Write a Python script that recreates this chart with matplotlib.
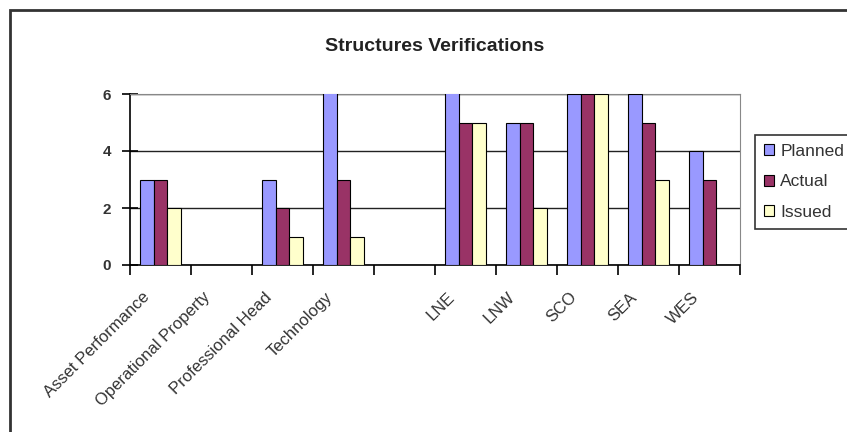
import numpy as np
import matplotlib.pyplot as plt
from matplotlib.patches import Rectangle

plt.rcParams['font.family'] = ['Liberation Sans', 'DejaVu Sans']

# Data: one empty slot separates the functional groups from the routes
categories = ['Asset Performance', 'Operational Property', 'Professional Head',
              'Technology', '', 'LNE', 'LNW', 'SCO', 'SEA', 'WES']
planned = [3, 0, 3, 7, 0, 7, 5, 6, 6, 4]
actual = [3, 0, 2, 3, 0, 5, 5, 6, 5, 3]
issued = [2, 0, 1, 1, 0, 5, 2, 6, 3, 0]

series = [('Planned', planned, '#9999FF'),
          ('Actual', actual, '#993366'),
          ('Issued', issued, '#FFFFCC')]

TEXT_COLOR = '#333333'

fig = plt.figure(figsize=(8.47, 4.32), dpi=100)
ax = fig.add_axes([130 / 847, 1 - 265 / 432, 610 / 847, 171 / 432])

x = np.arange(len(categories)) + 0.5
bar_w = 0.22
for i, (name, vals, color) in enumerate(series):
    ax.bar(x + (i - 1) * bar_w, vals, width=bar_w, color=color,
           edgecolor='black', linewidth=0.8, label=name, zorder=3)

ax.set_xlim(0, len(categories))
ax.set_ylim(0, 6)
ax.set_yticks([0, 2, 4, 6])
ax.yaxis.grid(True, color='#222222', linewidth=1.0, zorder=1)
ax.set_axisbelow(True)

# category boundaries carry the tick marks, labels sit under each slot
ax.set_xticks(np.arange(len(categories) + 1))
ax.set_xticklabels([])
ax.tick_params(axis='x', direction='out', length=7, width=1.2, color='black')
ax.tick_params(axis='y', direction='inout', length=11, width=1.2,
               labelsize=11, labelcolor=TEXT_COLOR, pad=8)
for lbl in ax.get_yticklabels():
    lbl.set_fontweight('bold')

for xi, name in zip(x, categories):
    ax.text(xi - 0.22, -1.05, name, rotation=45, ha='right', va='center',
            rotation_mode='anchor', fontsize=12, color=TEXT_COLOR,
            transform=ax.transData)

for side in ['top', 'right']:
    ax.spines[side].set_color('#888888')
for side in ['left', 'bottom']:
    ax.spines[side].set_color('black')
    ax.spines[side].set_linewidth(1.2)

ax.set_title('Structures Verifications', fontsize=14, fontweight='bold',
             color='#222222', pad=31)

leg = fig.legend(loc='upper left', bbox_to_anchor=(755 / 847, 1 - 135 / 432),
                 fontsize=12.5, frameon=True, fancybox=False, handlelength=0.6,
                 handleheight=0.6, handletextpad=0.35, borderpad=0.5,
                 labelspacing=0.9, borderaxespad=0, edgecolor='black')
leg.get_frame().set_linewidth(1.2)
for t in leg.get_texts():
    t.set_color(TEXT_COLOR)

# chart frame
fig.patches.append(Rectangle((10 / 847, -0.1), 1.0, 1 - 10 / 432 + 0.1,
                             transform=fig.transFigure, fill=False,
                             edgecolor='#333333', linewidth=2))

fig.savefig('out.png', dpi=100)
